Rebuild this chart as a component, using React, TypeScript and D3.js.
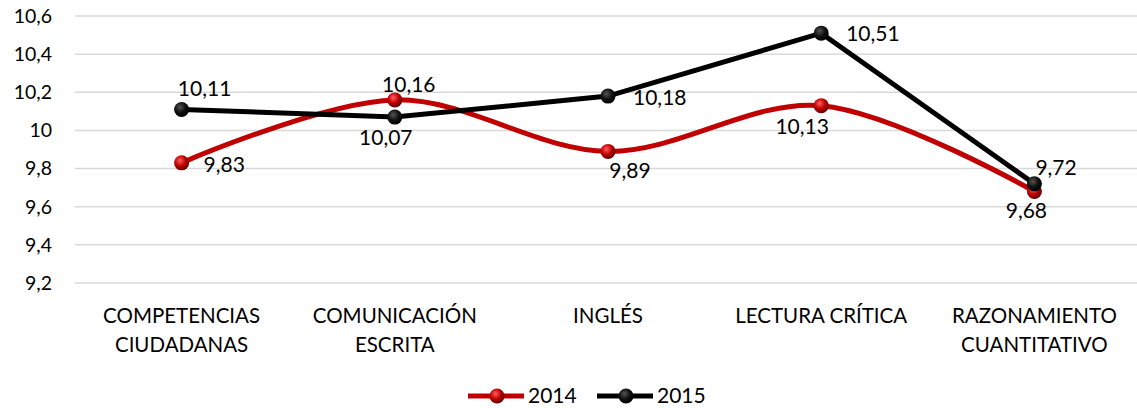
import * as d3 from "d3";

const categories = [
  ["COMPETENCIAS", "CIUDADANAS"],
  ["COMUNICACIÓN", "ESCRITA"],
  ["INGLÉS"],
  ["LECTURA CRÍTICA"],
  ["RAZONAMIENTO", "CUANTITATIVO"],
];
const values2014 = [9.83, 10.16, 9.89, 10.13, 9.68];
const values2015 = [10.11, 10.07, 10.18, 10.51, 9.72];
const yTicks = [9.2, 9.4, 9.6, 9.8, 10, 10.2, 10.4, 10.6];

// label placement per point: [dx, dy, anchor]
const labels2014: [number, number, string][] = [
  [22, 9, "start"],
  [14, -8, "middle"],
  [22, 27, "middle"],
  [-19, 28, "middle"],
  [-8, 27, "middle"],
];
const labels2015: [number, number, string][] = [
  [23, -13, "middle"],
  [-9, 28, "middle"],
  [25, 9, "start"],
  [25, 8, "start"],
  [1, -9, "start"],
];

const W = 1137;
const H = 408;
const FONT = "Lato, 'Open Sans', sans-serif";

export default function App() {
  const x = d3
    .scaleBand<number>()
    .domain(d3.range(categories.length))
    .range([75, 1141]);
  const y = d3.scaleLinear().domain([9.2, 10.6]).range([283, 16]);
  const cx = (i: number) => (x(i) ?? 0) + x.bandwidth() / 2;

  const smooth = d3
    .line<number>()
    .x((_, i) => cx(i))
    .y((d) => y(d))
    .curve(d3.curveCatmullRom.alpha(0.5));
  const straight = d3
    .line<number>()
    .x((_, i) => cx(i))
    .y((d) => y(d));

  const fmt = (v: number) => String(v).replace(".", ",");

  const series = [
    { name: "2014", values: values2014, color: "#c00000", grad: "g14", path: smooth, labels: labels2014 },
    { name: "2015", values: values2015, color: "#000000", grad: "g15", path: straight, labels: labels2015 },
  ];

  return (
    <svg width={W} height={H} style={{ position: "absolute", left: 0, top: 0 }}>
      <defs>
        <radialGradient id="g14" cx="40%" cy="35%" r="65%">
          <stop offset="0%" stopColor="#ff6060" />
          <stop offset="55%" stopColor="#c00000" />
          <stop offset="100%" stopColor="#600000" />
        </radialGradient>
        <radialGradient id="g15" cx="40%" cy="35%" r="65%">
          <stop offset="0%" stopColor="#555" />
          <stop offset="55%" stopColor="#111" />
          <stop offset="100%" stopColor="#000" />
        </radialGradient>
      </defs>
      <rect width={W} height={H} fill="#fff" />
      {yTicks.map((t) => (
        <g key={t}>
          <line x1={75} x2={W} y1={y(t)} y2={y(t)} stroke="#d9d9d9" strokeWidth={1.5} />
          <text
            x={52}
            y={y(t)}
            dy="0.35em"
            textAnchor="end"
            fontFamily={FONT}
            fontSize={19.5}
            fill="#000"
          >
            {fmt(t)}
          </text>
        </g>
      ))}
      {categories.map((c, i) => (
        <text key={i} x={cx(i)} y={323} textAnchor="middle" fontFamily={FONT} fontSize={20.5} fill="#000">
          {c.map((ln, j) => (
            <tspan key={j} x={cx(i)} dy={j === 0 ? 0 : 29}>
              {ln}
            </tspan>
          ))}
        </text>
      ))}
      {series.map((s) => (
        <g key={s.name}>
          <path d={s.path(s.values) ?? ""} fill="none" stroke={s.color} strokeWidth={5} />
          {s.values.map((v, i) => (
            <circle key={i} cx={cx(i)} cy={y(v)} r={7.5} fill={`url(#${s.grad})`} />
          ))}
        </g>
      ))}
      {series.map((s) =>
        s.values.map((v, i) => (
          <text
            key={s.name + i}
            x={cx(i) + s.labels[i][0]}
            y={y(v) + s.labels[i][1]}
            textAnchor={s.labels[i][2]}
            fontFamily={FONT}
            fontSize={21}
            fill="#000"
          >
            {fmt(v)}
          </text>
        ))
      )}
      {series.map((s, k) => {
        const lx = 468 + k * 129;
        return (
          <g key={s.name}>
            <line x1={lx} x2={lx + 56} y1={396} y2={396} stroke={s.color} strokeWidth={5} />
            <circle cx={lx + 29} cy={396} r={7.5} fill={`url(#${s.grad})`} />
            <text x={lx + 60} y={396} dy="0.35em" fontFamily={FONT} fontSize={21} fill="#000">
              {s.name}
            </text>
          </g>
        );
      })}
    </svg>
  );
}
